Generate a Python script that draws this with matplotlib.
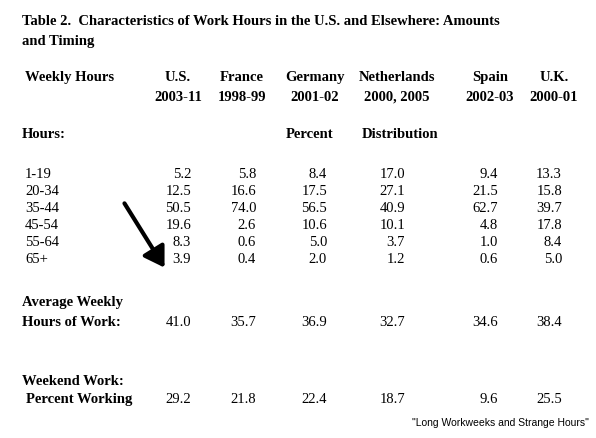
import matplotlib
matplotlib.use("Agg")
import matplotlib.pyplot as plt

W, H = 596, 438
countries = ["U.S.", "France", "Germany", "Netherlands", "Spain", "U.K."]
years = ["2003-11", "1998-99", "2001-02", "2000, 2005", "2002-03", "2000-01"]
bins = ["1-19", "20-34", "35-44", "45-54", "55-64", "65+"]
dist = [
    [5.2, 5.8, 8.4, 17.0, 9.4, 13.3],
    [12.5, 16.6, 17.5, 27.1, 21.5, 15.8],
    [50.5, 74.0, 56.5, 40.9, 62.7, 39.7],
    [19.6, 2.6, 10.6, 10.1, 4.8, 17.8],
    [8.3, 0.6, 5.0, 3.7, 1.0, 8.4],
    [3.9, 0.4, 2.0, 1.2, 0.6, 5.0],
]
avg_hours = [41.0, 35.7, 36.9, 32.7, 34.6, 38.4]
weekend = [29.2, 21.8, 22.4, 18.7, 9.6, 25.5]

head_x = [178, 242, 315, 397, 490, 554]
val_x = [191, 256, 327, 405, 498, 562]

fig = plt.figure(figsize=(W / 100, H / 100), dpi=100)
SERIF = "Liberation Serif"


def t(x, y, s, bold=False, ha="left", size=10.5, family=SERIF):
    # y is the visual middle of capitals; place baseline a bit lower
    fig.text(x / W, 1 - (y + 5) / H, s, ha=ha, va="baseline", fontsize=size,
             fontweight="bold" if bold else "normal", family=family)


t(22, 20, "Table 2.  Characteristics of Work Hours in the U.S. and Elsewhere: Amounts", bold=True)
t(22, 40, "and Timing", bold=True)
t(25, 76, "Weekly Hours", bold=True)
for x, c, yr in zip(head_x, countries, years):
    t(x, 76, c, bold=True, ha="center")
    t(x, 96, yr, bold=True, ha="center")
t(22, 133, "Hours:", bold=True)
t(310, 133, "Percent", bold=True, ha="center")
t(400, 133, "Distribution", bold=True, ha="center")

for i, (b, row) in enumerate(zip(bins, dist)):
    y = 173 + i * 17
    t(25, y, b)
    for x, v in zip(val_x, row):
        t(x, y, f"{v:.1f}", ha="right")

t(22, 301, "Average Weekly", bold=True)
t(22, 321, "Hours of Work:", bold=True)
for x, v in zip(val_x, avg_hours):
    t(x, 321, f"{v:.1f}", ha="right")

t(22, 380, "Weekend Work:", bold=True)
t(26, 398, "Percent Working", bold=True)
for x, v in zip(val_x, weekend):
    t(x, 398, f"{v:.1f}", ha="right")

t(589, 421, '"Long Workweeks and Strange Hours"', ha="right", size=7.5,
  family="Liberation Sans")

fig.patches.append(matplotlib.patches.FancyArrowPatch(
    (123 / W, 1 - 201 / H), (166 / W, 1 - 270 / H), transform=fig.transFigure,
    arrowstyle="-|>,head_length=8,head_width=5", lw=3, color="black",
    mutation_scale=1.5))

fig.savefig("out.png", dpi=100)
